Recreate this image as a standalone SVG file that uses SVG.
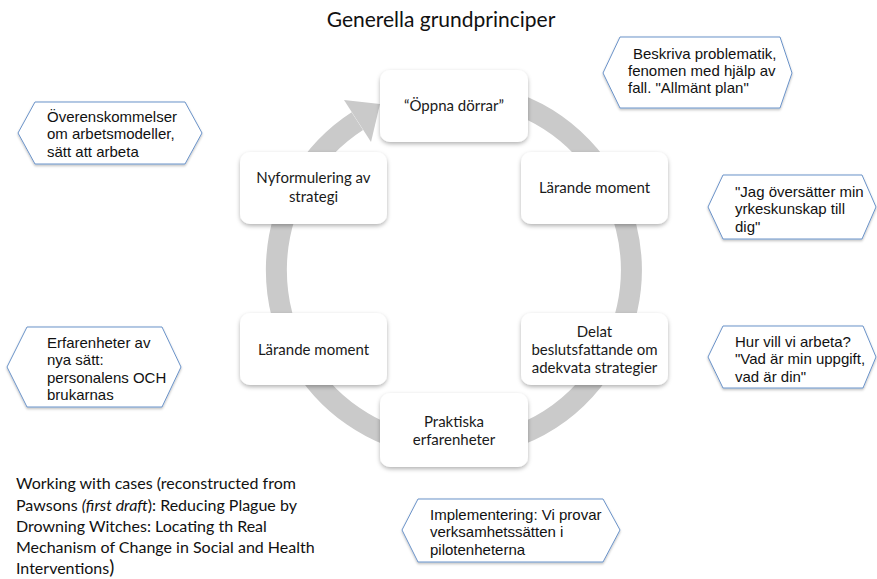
<svg xmlns="http://www.w3.org/2000/svg" width="877" height="579" viewBox="0 0 877 579">
<defs>
<filter id="sh" x="-20%" y="-20%" width="140%" height="150%">
<feDropShadow dx="0" dy="2" stdDeviation="2" flood-color="#000" flood-opacity="0.3"/>
</filter>
<filter id="sh2" x="-20%" y="-20%" width="140%" height="150%">
<feDropShadow dx="0" dy="1.5" stdDeviation="1.2" flood-color="#000" flood-opacity="0.25"/>
</filter>
</defs>
<style>
.box{fill:#fff;filter:url(#sh);}
.nt{font-family:Lato,"Open Sans",sans-serif;font-size:15px;fill:#1a1a1a;text-anchor:middle;}
.hex{fill:#fff;stroke:#6b93c9;stroke-width:1;filter:url(#sh2);}
.ct{font-family:"Liberation Sans",Arial,sans-serif;font-size:15px;fill:#111;}
.ring{fill:none;stroke:#cacaca;stroke-width:21;}
.title{font-family:Lato,"Open Sans",sans-serif;font-size:21px;fill:#111;text-anchor:middle;}
.foot{font-family:Lato,"Open Sans",sans-serif;font-size:16px;fill:#111;}
</style>
<rect width="877" height="579" fill="#fff"/>
<text class="title" x="441" y="27">Generella grundprinciper</text>

<g id="connectors">
<path class="ring" d="M423.2,95.2 A177.5,177.5 0 1 1 357.3,121.1"/>
<polygon points="344,100 380,104 371,142" fill="#cacaca"/>
</g>

<g id="n-oppna"><rect class="box" x="380" y="70" width="148" height="72" rx="10"/><text class="nt" x="454" y="111">“Öppna dörrar”</text></g>
<g id="n-larande1"><rect class="box" x="521" y="152" width="147" height="72" rx="10"/><text class="nt" x="594.5" y="193">Lärande moment</text></g>
<g id="n-nyform"><rect class="box" x="240" y="152" width="147" height="72" rx="10"/><text class="nt" x="313.5" y="183">Nyformulering av</text><text class="nt" x="313.5" y="202">strategi</text></g>
<g id="n-larande2"><rect class="box" x="240" y="313" width="147" height="72" rx="10"/><text class="nt" x="313.5" y="355">Lärande moment</text></g>
<g id="n-delat"><rect class="box" x="521" y="313" width="147" height="72" rx="10"/><text class="nt" x="594.5" y="337">Delat</text><text class="nt" x="594.5" y="355">beslutsfattande om</text><text class="nt" x="594.5" y="373">adekvata strategier</text></g>
<g id="n-praktiska"><rect class="box" x="380" y="393" width="148" height="74" rx="10"/><text class="nt" x="454" y="427">Praktiska</text><text class="nt" x="454" y="445">erfarenheter</text></g>

<g id="c-beskriva"><polygon class="hex" points="603,73 620,37 780,37 792,73 780,108 620,108"/>
<text class="ct" x="633" y="59">Beskriva problematik,</text><text class="ct" x="628" y="76">fenomen med hjälp av</text><text class="ct" x="628" y="93">fall. "Allmänt  plan"</text></g>
<g id="c-overens"><polygon class="hex" points="18,133 35,102 185,102 202,133 185,164 35,164"/>
<text class="ct" x="47" y="122">Överenskommelser</text><text class="ct" x="47" y="139">om arbetsmodeller,</text><text class="ct" x="47" y="157">sätt att arbeta</text></g>
<g id="c-jag"><polygon class="hex" points="708,207 723,175 862,175 876,207 862,239 723,239"/>
<text class="ct" x="735" y="197">"Jag översätter min</text><text class="ct" x="735" y="214">yrkeskunskap till</text><text class="ct" x="735" y="232">dig"</text></g>
<g id="c-hur"><polygon class="hex" points="708,357 723,326 863,326 876,357 863,388 723,388"/>
<text class="ct" x="735" y="347">Hur vill vi arbeta?</text><text class="ct" x="735" y="364">"Vad är min uppgift,</text><text class="ct" x="735" y="382">vad är din"</text></g>
<g id="c-erfar"><polygon class="hex" points="7,367 27,327 162,327 181,367 162,407 27,407"/>
<text class="ct" x="47" y="348">Erfarenheter av</text><text class="ct" x="47" y="365">nya sätt:</text><text class="ct" x="47" y="383">personalens OCH</text><text class="ct" x="47" y="400">brukarnas</text></g>
<g id="c-impl"><polygon class="hex" points="402,530 418,499 603,499 620,530 603,562 418,562"/>
<text class="ct" x="430" y="520">Implementering: Vi provar</text><text class="ct" x="430" y="537">verksamhetssätten  i</text><text class="ct" x="430" y="555">pilotenheterna</text></g>

<g id="footnote">
<text class="foot" x="16" y="489">Working with cases (reconstructed from</text>
<text class="foot" x="16" y="511">Pawsons <tspan font-style="italic">(first draft</tspan>): Reducing Plague by</text>
<text class="foot" x="16" y="532">Drowning Witches: Locating th Real</text>
<text class="foot" x="16" y="553">Mechanism of Change in Social and Health</text>
<text class="foot" x="16" y="574">Interventions<tspan font-size="19px">)</tspan></text>
</g>
</svg>
